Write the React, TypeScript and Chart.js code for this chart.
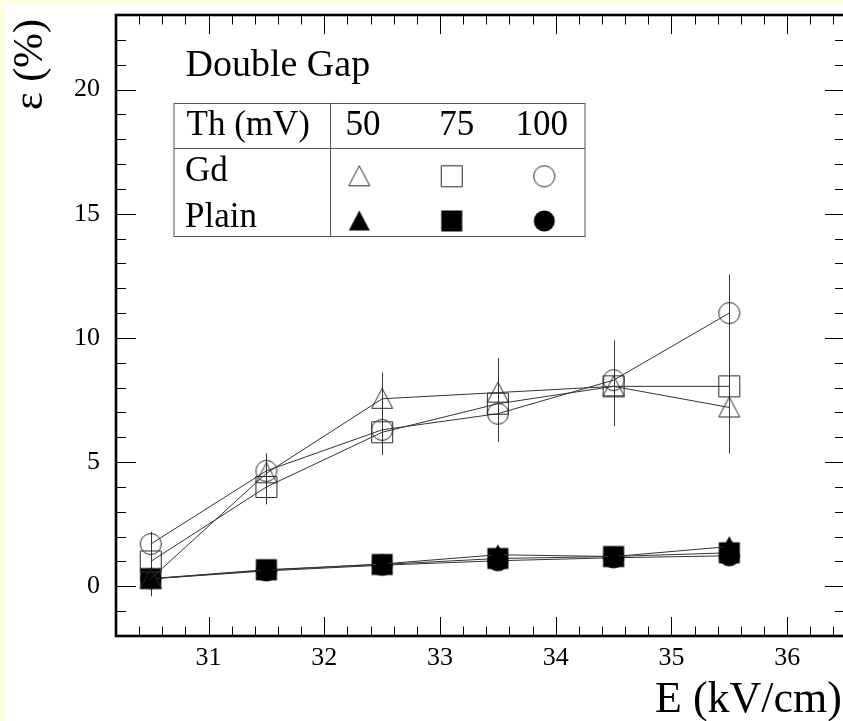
import React, { useEffect, useRef } from "react";
import { Chart, registerables } from "chart.js";

Chart.register(...registerables);

// ---- data ----
const fieldKV = [30.5, 31.5, 32.5, 33.5, 34.5, 35.5];

const gd50 = [0.3, 4.55, 7.55, 7.8, 8.05, 7.2];
const gd75 = [1.0, 4.0, 6.2, 7.35, 8.05, 8.05];
const gd100 = [1.7, 4.65, 6.3, 6.95, 8.3, 11.0];
const plain50 = [0.3, 0.65, 0.9, 1.27, 1.2, 1.6];
const plain75 = [0.31, 0.67, 0.88, 1.12, 1.2, 1.35];
const plain100 = [0.3, 0.62, 0.85, 1.03, 1.15, 1.23];

const gd50Err = [0.7, 0.7, 1.05, 1.4, 1.6, 1.85];
const gd75Err = [0.5, 0.7, 0.9, 1.3, 1.6, 1.7];
const gd100Err = [0.5, 0.7, 1.0, 1.15, 1.6, 1.55];
const plain50Err = [0.15, 0.15, 0.15, 0.2, 0.2, 0.2];
const plain75Err = [0.15, 0.15, 0.15, 0.2, 0.2, 0.2];
const plain100Err = [0.15, 0.15, 0.15, 0.2, 0.2, 0.2];

const xTicks = [31, 32, 33, 34, 35, 36];
const yTicks = [0, 5, 10, 15, 20];
const xRange = [30.2, 36.5];
const yRange = [-2, 23];
const xMinorStep = 0.2;
const yMinorStep = 1;

const thresholds = ["50", "75", "100"];
const rowLabels = ["Gd", "Plain"];
const headerLabel = "Th (mV)";
const titleText = "Double Gap";
const xTitle = "E (kV/cm)";
const yTitle = "\u03b5 (%)";

const SERIF = "'Liberation Serif', 'DejaVu Serif', serif";

type Shape = "triangle" | "square" | "circle";

function makeMarker(shape: Shape, filled: boolean): HTMLCanvasElement {
  const s = 24;
  const c = document.createElement("canvas");
  c.width = s;
  c.height = s;
  const g = c.getContext("2d")!;
  const r = 10.5;
  const m = s / 2;
  g.beginPath();
  if (shape === "triangle") {
    g.moveTo(m, m - r);
    g.lineTo(m + r, m + r - 1);
    g.lineTo(m - r, m + r - 1);
    g.closePath();
  } else if (shape === "square") {
    g.rect(m - r, m - r, 2 * r, 2 * r);
  } else {
    g.arc(m, m, r, 0, Math.PI * 2);
  }
  if (filled) {
    g.fillStyle = "#000";
    g.fill();
  } else {
    g.strokeStyle = "#2a2a2a";
    g.lineWidth = 1;
    g.stroke();
  }
  return c;
}

export default function App() {
  const ref = useRef<HTMLCanvasElement>(null);

  useEffect(() => {
    if (!ref.current) return;
    const markers = {
      gdT: makeMarker("triangle", false),
      gdS: makeMarker("square", false),
      gdC: makeMarker("circle", false),
      plT: makeMarker("triangle", true),
      plS: makeMarker("square", true),
      plC: makeMarker("circle", true),
    };

    const series = [
      { label: "Gd 50", y: gd50, err: gd50Err, mk: markers.gdT },
      { label: "Gd 75", y: gd75, err: gd75Err, mk: markers.gdS },
      { label: "Gd 100", y: gd100, err: gd100Err, mk: markers.gdC },
      { label: "Plain 50", y: plain50, err: plain50Err, mk: markers.plT },
      { label: "Plain 75", y: plain75, err: plain75Err, mk: markers.plS },
      { label: "Plain 100", y: plain100, err: plain100Err, mk: markers.plC },
    ];

    const errorBars = {
      id: "errorBars",
      beforeDatasetsDraw(chart: any) {
        const { ctx, chartArea: a, scales } = chart;
        const xs = scales.x;
        const ys = scales.y;
        ctx.save();
        ctx.beginPath();
        ctx.rect(a.left, a.top, a.width, a.height);
        ctx.clip();
        ctx.strokeStyle = "#333";
        ctx.lineWidth = 1;
        series.forEach((s) => {
          s.y.forEach((v, i) => {
            const px = Math.round(xs.getPixelForValue(fieldKV[i])) + 0.5;
            const y1 = ys.getPixelForValue(v + s.err[i]);
            const y2 = ys.getPixelForValue(v - s.err[i]);
            ctx.beginPath();
            ctx.moveTo(px, y1);
            ctx.lineTo(px, y2);
            ctx.stroke();
          });
        });
        ctx.restore();
      },
    };

    const frame = {
      id: "frame",
      afterDraw(chart: any) {
        const { ctx, chartArea: a, scales } = chart;
        const xs = scales.x;
        const ys = scales.y;
        ctx.save();
        ctx.strokeStyle = "#000";
        ctx.lineWidth = 1;
        const seg = (x1: number, y1: number, x2: number, y2: number) => {
          ctx.beginPath();
          ctx.moveTo(x1, y1);
          ctx.lineTo(x2, y2);
          ctx.stroke();
        };
        const nX = Math.round((xRange[1] - xRange[0]) / xMinorStep);
        for (let k = 1; k < nX; k++) {
          const v = xRange[0] + k * xMinorStep;
          const major = Math.abs(v - Math.round(v)) < 1e-6;
          const len = major ? 19 : 9.5;
          const px = Math.round(xs.getPixelForValue(v)) + 0.5;
          seg(px, a.bottom, px, a.bottom - len);
          seg(px, a.top, px, a.top + len);
        }
        const nY = Math.round((yRange[1] - yRange[0]) / yMinorStep);
        for (let k = 1; k < nY; k++) {
          const v = yRange[0] + k * yMinorStep;
          const major = Math.abs(v % 5) < 1e-6;
          const len = major ? 20 : 10;
          const py = Math.round(ys.getPixelForValue(v)) + 0.5;
          seg(a.left, py, a.left + len, py);
          seg(a.right, py, a.right - len, py);
        }
        ctx.lineWidth = 2.6;
        ctx.strokeRect(a.left, a.top, a.right - a.left, a.bottom - a.top);

        // axis titles
        ctx.fillStyle = "#000";
        ctx.font = `44px ${SERIF}`;
        ctx.textAlign = "right";
        ctx.textBaseline = "alphabetic";
        ctx.fillText(xTitle, 836, 707.5);

        ctx.save();
        ctx.translate(36, 106);
        ctx.rotate(-Math.PI / 2);
        ctx.font = `42px ${SERIF}`;
        ctx.textAlign = "left";
        ctx.fillText(yTitle, 0, 0);
        ctx.restore();

        // title
        ctx.font = `38px ${SERIF}`;
        ctx.textAlign = "left";
        ctx.fillText(titleText, 179.5, 71.5);

        // legend table
        const L = 168, R = 579, T = 99.5, M = 144.5, B = 232.5, D = 324.5;
        ctx.strokeStyle = "#555";
        ctx.lineWidth = 1;
        ctx.strokeRect(L, T, R - L, B - T);
        seg(L, M, R, M);
        seg(D, T, D, B);
        ctx.font = `35px ${SERIF}`;
        ctx.textAlign = "left";
        ctx.fillText(headerLabel, 180.5, 131);
        ctx.fillText(rowLabels[0], 179, 176.5);
        ctx.fillText(rowLabels[1], 179, 222.5);
        const colX = [357, 450.7, 535.7];
        const mkX = [353.3, 445.7, 538.3];
        ctx.textAlign = "center";
        thresholds.forEach((t, i) => ctx.fillText(t, colX[i], 131));
        const gdRow = [markers.gdT, markers.gdS, markers.gdC];
        const plRow = [markers.plT, markers.plS, markers.plC];
        gdRow.forEach((m, i) => ctx.drawImage(m, mkX[i] - m.width / 2, 172.3 - m.height / 2));
        plRow.forEach((m, i) => ctx.drawImage(m, mkX[i] - m.width / 2, 217 - m.height / 2));
        ctx.restore();
      },
    };

    const chart = new Chart(ref.current, {
      type: "line",
      data: {
        datasets: series.map((s) => ({
          label: s.label,
          data: fieldKV.map((x, i) => ({ x, y: s.y[i] })),
          borderColor: "#333",
          borderWidth: 1,
          backgroundColor: "transparent",
          fill: false,
          tension: 0,
          pointStyle: s.mk as any,
          pointRadius: 10,
          pointHoverRadius: 10,
        })),
      },
      options: {
        animation: false,
        responsive: false,
        events: [],
        layout: { padding: { left: 0, top: 10, right: 11, bottom: 0 } },
        plugins: {
          legend: { display: false },
          tooltip: { enabled: false },
          title: { display: false },
        },
        scales: {
          x: {
            type: "linear",
            min: xRange[0],
            max: xRange[1],
            grid: { display: false, drawTicks: false },
            border: { display: false },
            ticks: {
              autoSkip: false,
              maxRotation: 0,
              padding: 7,
              color: "#000",
              font: { family: SERIF, size: 26, lineHeight: 1.2 },
            },
            afterBuildTicks: (scale: any) => {
              scale.ticks = xTicks.map((v) => ({ value: v }));
            },
            afterFit: (scale: any) => {
              scale.height = 85;
              scale.paddingLeft = 0;
              scale.paddingRight = 0;
            },
          },
          y: {
            type: "linear",
            min: yRange[0],
            max: yRange[1],
            grid: { display: false, drawTicks: false },
            border: { display: false },
            ticks: {
              autoSkip: false,
              padding: 16,
              color: "#000",
              font: { family: SERIF, size: 26, lineHeight: 1.2 },
            },
            afterBuildTicks: (scale: any) => {
              scale.ticks = yTicks.map((v) => ({ value: v }));
            },
            afterFit: (scale: any) => {
              scale.width = 110;
              scale.paddingTop = 0;
              scale.paddingBottom = 0;
            },
          },
        },
      },
      plugins: [errorBars, frame],
    });
    return () => chart.destroy();
  }, []);

  return (
    <div
      style={{
        position: "fixed",
        left: 0,
        top: 0,
        width: 843,
        height: 721,
        background: "#ffffe0",
        overflow: "hidden",
      }}
    >
      <div
        style={{
          position: "absolute",
          left: 6,
          top: 4,
          width: 850,
          height: 717,
          background: "#ffffff",
        }}
      >
        <canvas ref={ref} width={850} height={717} style={{ display: "block" }} />
      </div>
    </div>
  );
}
